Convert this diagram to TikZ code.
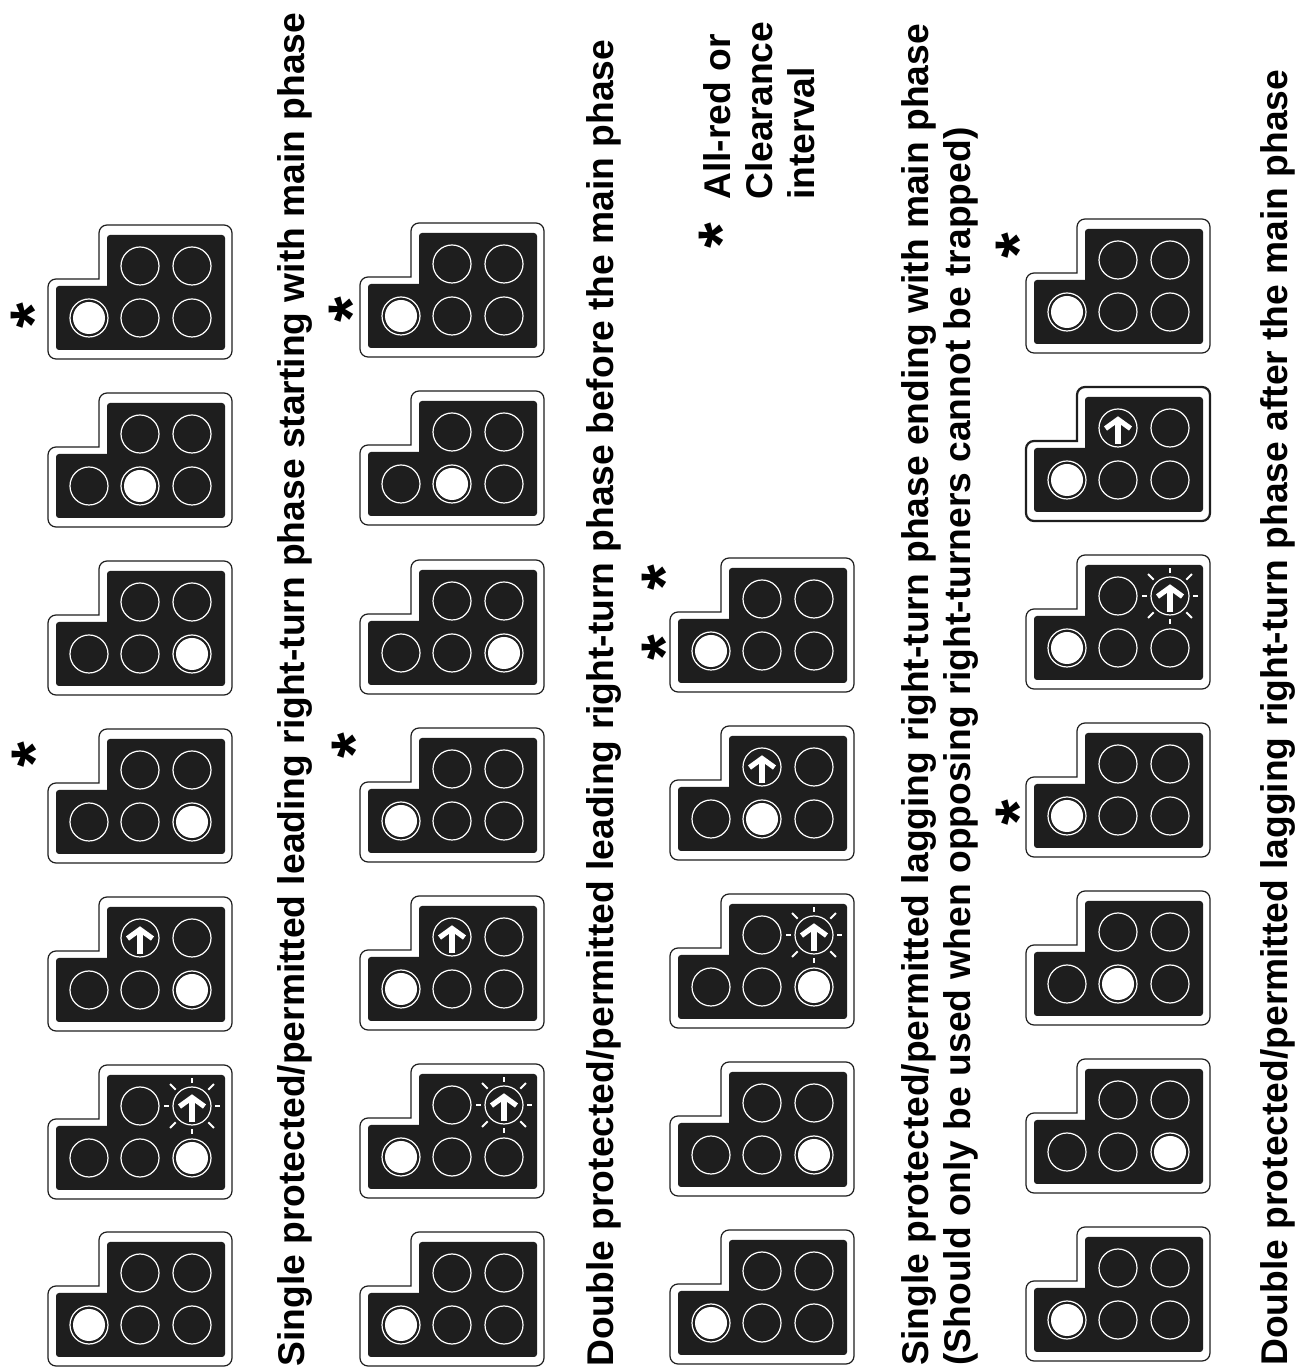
\documentclass[tikz,border=0pt]{standalone}
\usepackage{fontspec}
\setmainfont{Liberation Sans}
\definecolor{panelblack}{HTML}{1E1E1E}
\tikzset{
    panelrim/.style={draw=panelblack, fill=white, rounded corners=4pt},
    panelbody/.style={fill=panelblack, rounded corners=1.5pt},
    lamp/.style={draw=white, line width=0.6pt},
    litlamp/.style={fill=white},
    arrowmark/.style={draw=white, line width=2.6pt},
    raymark/.style={draw=white, line width=1pt},
    caption/.style={font=\fontsize{18.6}{21}\selectfont\bfseries, rotate=90, anchor=base west, inner sep=0pt, align=left},
    starmark/.style={font=\fontsize{33}{33}\selectfont\bfseries, rotate=90, inner sep=0pt}
}
% one signal head: rim width, left and top of the rim, lit lamp, arrow lamp (144 flashes)
\newcommand{\signalhead}[5][0.6pt]{%
    \begin{scope}[shift={(#2,#3)}]
        \draw[panelrim, line width=#1] (51,-54) [rounded corners=0pt] -- (51,-40) [rounded corners=4pt] -- (51,0) -- (184,0) -- (184,-134) -- (0,-134) -- (0,-54) -- (40,-54) [rounded corners=0pt] -- cycle;
        \fill[panelbody] (59,-61) [rounded corners=0pt] -- (59,-40) [rounded corners=1.5pt] -- (59,-10) -- (177,-10) -- (177,-125) -- (8,-125) -- (8,-61) -- (40,-61) [rounded corners=0pt] -- cycle;
        % lamps
        \foreach \lx/\ly in {41/-93, 92/-93, 144/-93, 92/-41, 144/-41}
            \draw[lamp] (\lx,\ly) circle (19);
        \fill[litlamp] (#4,-93) circle (16);
        % arrow
        \ifnum#5>0
            \begin{scope}[shift={(#5,-41)}]
                \draw[arrowmark] (0,-16) -- (0,6);
                \draw[arrowmark] (-12.5,-0.5) -- (0,8.5) -- (12.5,-0.5);
                \ifnum#5=144
                    \foreach \ang in {0,90,180,270}
                        \draw[raymark] (\ang:23) -- (\ang:28);
                    \foreach \ang in {45,135,225,315}
                        \draw[raymark] (\ang:23) -- (\ang:31);
                \fi
            \end{scope}
        \fi
    \end{scope}
}
\begin{document}
\begin{tikzpicture}[x=0.5pt, y=0.5pt]
    \useasboundingbox (0,0) rectangle (1308,1372);

    % Single leading
    \foreach \py/\lit/\arw in {140/41/0, 307/144/144, 475/144/92, 643/144/0, 811/144/0, 979/92/0, 1147/41/0}
        \signalhead{48}{\py}{\lit}{\arw};
    \node[caption] (singlelead) at (304,5) {Single protected/permitted leading right-turn phase starting with main phase};
    \node[starmark] (starsl1) at (34.5,617) {*};
    \node[starmark] (starsl2) at (33.5,1056) {*};

    % Double leading
    \foreach \py/\lit/\arw in {140/41/0, 308/41/144, 476/41/92, 644/41/0, 812/144/0, 981/92/0, 1149/41/0}
        \signalhead{360}{\py}{\lit}{\arw};
    \node[caption] (doublelead) at (613,5) {Double protected/permitted leading right-turn phase before the main phase};
    \node[starmark] (stardl1) at (355,626) {*};
    \node[starmark] (stardl2) at (352,1062) {*};

    % Single lagging
    \foreach \py/\lit/\arw in {142/41/0, 310/144/0, 478/144/144, 646/92/92, 814/41/0}
        \signalhead{670}{\py}{\lit}{\arw};
    \node[starmark] (starc1) at (665,794) {*};
    \node[starmark] (starc2) at (665,724) {*};
    \node[starmark] (starlegend) at (722,1136) {*};
    \node[caption] (legend) at (814,1172) {All-red or\\Clearance\\interval};
    \node[caption] (singlelag) at (970,6) {Single protected/permitted lagging right-turn phase ending with main phase\\(Should only be used when opposing right-turners cannot be trapped)};

    % Double lagging
    \foreach \py/\lit/\arw in {145/41/0, 313/144/0, 481/92/0, 649/41/0, 817/41/144}
        \signalhead{1026}{\py}{\lit}{\arw};
    \signalhead[1.1pt]{1026}{985}{41}{92}
    \signalhead{1026}{1153}{41}{0}
    \node[starmark] (stardg1) at (1019,559) {*};
    \node[starmark] (stardg2) at (1019,1126) {*};
    \node[caption] (doublelag) at (1287,6) {Double protected/permitted lagging right-turn phase after the main phase};
\end{tikzpicture}
\end{document}
